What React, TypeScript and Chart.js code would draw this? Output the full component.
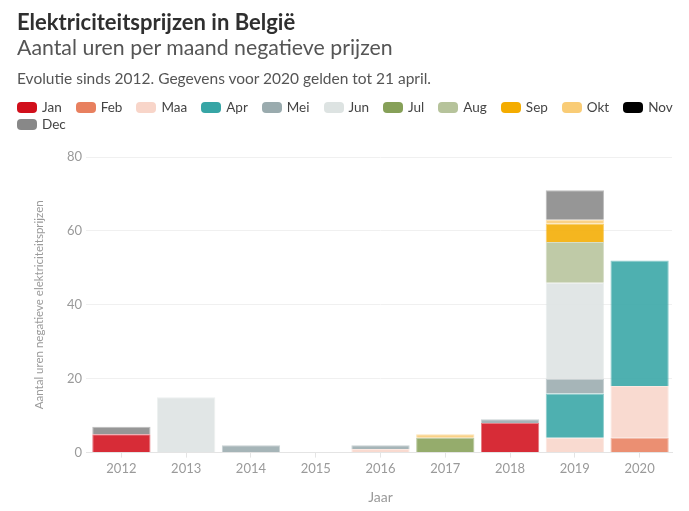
import React, { useEffect, useRef } from "react";
import { Chart, registerables } from "chart.js";

Chart.register(...registerables);

// ---- data ----
const years = ["2012", "2013", "2014", "2015", "2016", "2017", "2018", "2019", "2020"];
const months = ["Jan", "Feb", "Maa", "Apr", "Mei", "Jun", "Jul", "Aug", "Sep", "Okt", "Nov", "Dec"];
const monthColors = [
  "#d10f1b", "#e8805f", "#f8d5c9", "#36a5a5", "#9aabae", "#dde3e2",
  "#86a058", "#b6c39b", "#f4ac00", "#f9cc76", "#000000", "#888888",
];
const jan = [5, 0, 0, 0, 0, 0, 8, 0, 0];
const feb = [0, 0, 0, 0, 0, 0, 0, 0, 4];
const maa = [0, 0, 0, 0, 1, 0, 0, 4, 14];
const apr = [0, 0, 0, 0, 0, 0, 0, 12, 34];
const mei = [0, 0, 2, 0, 1, 0, 1, 4, 0];
const jun = [0, 15, 0, 0, 0, 0, 0, 26, 0];
const jul = [0, 0, 0, 0, 0, 4, 0, 0, 0];
const aug = [0, 0, 0, 0, 0, 0, 0, 11, 0];
const sep = [0, 0, 0, 0, 0, 0, 0, 5, 0];
const okt = [0, 0, 0, 0, 0, 1, 0, 1, 0];
const nov = [0, 0, 0, 0, 0, 0, 0, 0, 0];
const dec = [2, 0, 0, 0, 0, 0, 0, 8, 0];
const monthValues = [jan, feb, maa, apr, mei, jun, jul, aug, sep, okt, nov, dec];
const yTicks = [0, 20, 40, 60, 80];

const title = "Elektriciteitsprijzen in België";
const subtitle = "Aantal uren per maand negatieve prijzen";
const description = "Evolutie sinds 2012. Gegevens voor 2020 gelden tot 21 april.";
const xTitle = "Jaar";
const yTitle = "Aantal uren negatieve elektriciteitsprijzen";

const FONT = "Lato, 'Noto Sans', sans-serif";

function rgba(hex: string, a: number) {
  const n = parseInt(hex.slice(1), 16);
  return `rgba(${(n >> 16) & 255},${(n >> 8) & 255},${n & 255},${a})`;
}

export default function App() {
  const ref = useRef<HTMLCanvasElement | null>(null);

  useEffect(() => {
    if (!ref.current) return;
    const chart = new Chart(ref.current, {
      type: "bar",
      data: {
        labels: years,
        datasets: months.map((m, i) => ({
          label: m,
          data: monthValues[i].map((v) => (v === 0 ? null : v)),
          backgroundColor: rgba(monthColors[i], 0.88),
          borderColor: rgba(monthColors[i], 0.55),
          borderWidth: 1,
          barPercentage: 0.9,
          categoryPercentage: 1,
        })),
      },
      options: {
        animation: false,
        responsive: false,
        maintainAspectRatio: false,
        layout: { padding: { top: 157, left: 28, right: 17, bottom: 1 } },
        plugins: {
          legend: { display: false },
          tooltip: { enabled: false },
        },
        scales: {
          x: {
            stacked: true,
            grid: {
              drawOnChartArea: false,
              drawTicks: true,
              tickLength: 5,
              color: "#e4e4e4",
              offset: false,
            },
            border: { color: "#e4e4e4", width: 1 },
            ticks: { color: "#9a9a9a", font: { family: FONT, size: 13 }, padding: 3 },
            title: {
              display: true,
              text: xTitle,
              color: "#9a9a9a",
              font: { family: FONT, size: 14 },
              padding: { top: 10, bottom: 4 },
            },
          },
          y: {
            stacked: true,
            min: 0,
            max: 80,
            afterBuildTicks: (s: any) => {
              s.ticks = yTicks.map((v) => ({ value: v }));
            },
            afterFit: (s: any) => {
              s.width = 61;
            },
            grid: {
              color: (ctx: any) => (ctx.tick && ctx.tick.value === 0 ? "#e4e4e4" : "#f0f0f0"),
              tickLength: 3,
            },
            border: { display: false },
            ticks: { color: "#9a9a9a", font: { family: FONT, size: 13 }, padding: 4 },
            title: {
              display: true,
              text: yTitle,
              color: "#9a9a9a",
              font: { family: FONT, size: 11.5 },
              padding: { top: 4, bottom: 20 },
            },
          },
        },
      },
    });
    return () => chart.destroy();
  }, []);

  return (
    <div style={{ position: "fixed", left: 0, top: 0, width: 689, height: 511, background: "#fff", fontFamily: FONT, overflow: "hidden" }}>
      <canvas ref={ref} width={689} height={511} style={{ position: "absolute", left: 0, top: 0, display: "block" }} />
      <div style={{ position: "absolute", left: 17, top: 11, fontSize: 22, lineHeight: "22px", fontWeight: 700, color: "#2f2f2f", whiteSpace: "nowrap" }}>
        {title}
      </div>
      <div style={{ position: "absolute", left: 17, top: 37, fontSize: 21.3, lineHeight: "21px", color: "#555", whiteSpace: "nowrap" }}>
        {subtitle}
      </div>
      <div style={{ position: "absolute", left: 17, top: 71, fontSize: 15.5, lineHeight: "15.5px", color: "#555", whiteSpace: "nowrap" }}>
        {description}
      </div>
      <div style={{ position: "absolute", left: 17, top: 99, width: 700, display: "flex", flexWrap: "wrap" }}>
        {months.map((m, i) => (
          <div key={m} style={{ display: "flex", alignItems: "center", height: 17, marginRight: 14 }}>
            <span style={{ display: "inline-block", width: 20, height: 11, borderRadius: 4, background: monthColors[i], marginRight: 5 }} />
            <span style={{ fontSize: 13.5, lineHeight: "17px", color: "#444" }}>{m}</span>
          </div>
        ))}
      </div>
    </div>
  );
}
